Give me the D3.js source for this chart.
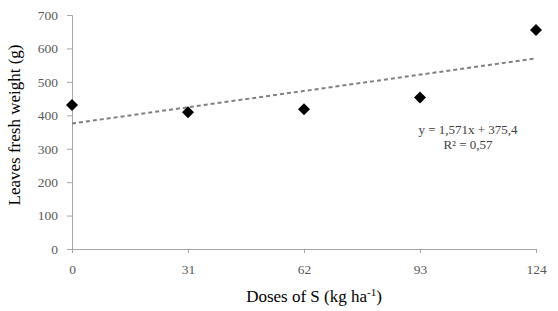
<!DOCTYPE html>
<html><head><meta charset="utf-8">
<script src="https://cdn.jsdelivr.net/npm/d3@7"></script>
<style>body{margin:0;background:#fff}</style>
</head><body>
<svg id="c" width="558" height="311"></svg>
<script>
const doses = [0, 31, 62, 93, 124];
const weights = [431, 409, 418, 453, 655];
const yTicks = [0, 100, 200, 300, 400, 500, 600, 700];
const slope = 1.571, intercept = 375.4;
const eqText = "y = 1,571x + 375,4";
const r2Text = "R² = 0,57";

const svg = d3.select("#c");
const x = d3.scaleLinear().domain([0, 124]).range([72, 536]);
const y = d3.scaleLinear().domain([0, 700]).range([249, 15]);
const font = "Liberation Serif, Times New Roman, serif";

const yAxis = svg.append("g").attr("transform", "translate(72,0)")
  .call(d3.axisLeft(y).tickValues(yTicks).tickSize(5).tickPadding(9));
const xAxis = svg.append("g").attr("transform", "translate(0,249)")
  .call(d3.axisBottom(x).tickValues(doses).tickSize(4).tickPadding(11));
[yAxis, xAxis].forEach(a => {
  a.select(".domain").attr("stroke", "#a6a6a6");
  a.selectAll(".tick line").attr("stroke", "#a6a6a6");
  a.selectAll("text").attr("fill", "#595959").style("font-family", font).style("font-size", "13.5px");
});

svg.append("line")
  .attr("x1", x(0)).attr("y1", y(intercept))
  .attr("x2", x(124)).attr("y2", y(intercept + slope * 124))
  .attr("stroke", "#808080").attr("stroke-width", 2).attr("stroke-dasharray", "4,3");

svg.selectAll(".pt").data(doses).enter().append("path")
  .attr("transform", (d, i) => `translate(${x(d)},${y(weights[i])})`)
  .attr("d", "M0,-6L6,0L0,6L-6,0Z").attr("fill", "#000");

svg.append("text").attr("x", 468).attr("y", 134).attr("text-anchor", "middle")
  .style("font-family", font).style("font-size", "13px").attr("fill", "#404040").text(eqText);
svg.append("text").attr("x", 468).attr("y", 149).attr("text-anchor", "middle")
  .style("font-family", font).style("font-size", "13px").attr("fill", "#404040").text(r2Text);

svg.append("text").attr("transform", "translate(20,125) rotate(-90)").attr("text-anchor", "middle")
  .style("font-family", font).style("font-size", "17px").attr("fill", "#000").text("Leaves  fresh weight (g)");

const xt = svg.append("text").attr("x", 314).attr("y", 302).attr("text-anchor", "middle")
  .style("font-family", font).style("font-size", "17px").attr("fill", "#000");
xt.append("tspan").text("Doses of S (kg ha");
xt.append("tspan").attr("dy", -6).style("font-size", "11px").text("-1");
xt.append("tspan").attr("dy", 6).text(")");
</script>
</body></html>
